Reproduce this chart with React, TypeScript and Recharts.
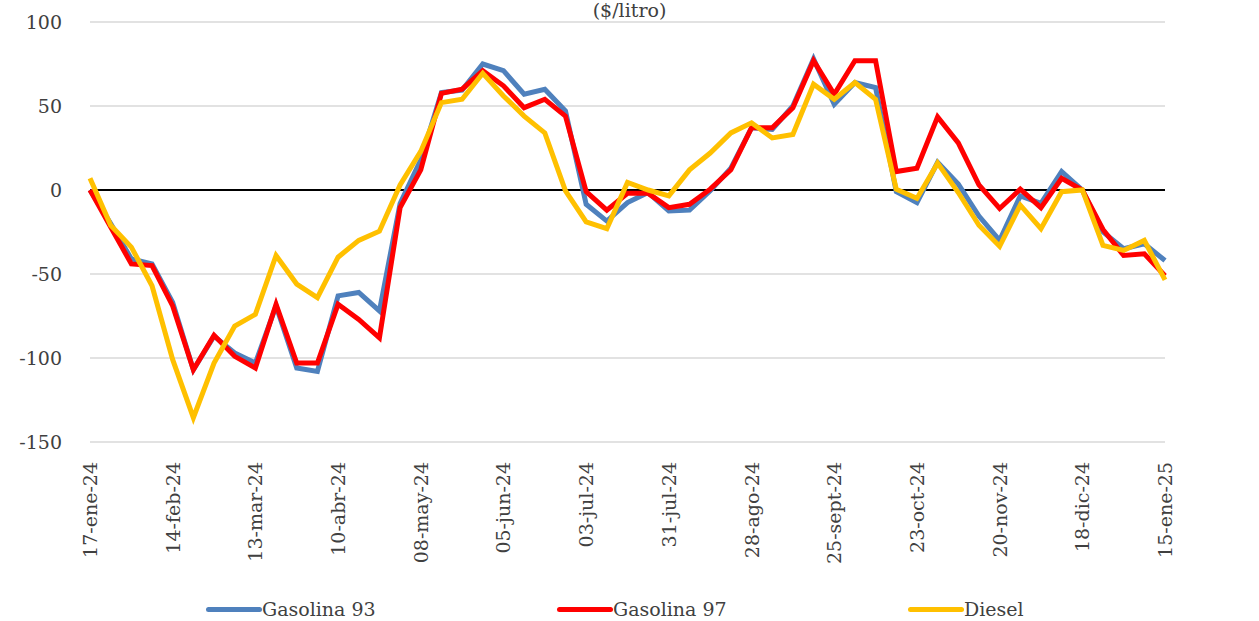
import React from 'react';
import {
  CartesianGrid,
  Legend,
  Line,
  LineChart,
  ReferenceLine,
  XAxis,
  YAxis,
} from 'recharts';

const weeks = [
  '17-ene-24', '24-ene-24', '31-ene-24', '07-feb-24', '14-feb-24', '21-feb-24', '28-feb-24',
  '06-mar-24', '13-mar-24', '20-mar-24', '27-mar-24', '03-abr-24', '10-abr-24', '17-abr-24',
  '24-abr-24', '01-may-24', '08-may-24', '15-may-24', '22-may-24', '29-may-24', '05-jun-24',
  '12-jun-24', '19-jun-24', '26-jun-24', '03-jul-24', '10-jul-24', '17-jul-24', '24-jul-24',
  '31-jul-24', '07-ago-24', '14-ago-24', '21-ago-24', '28-ago-24', '04-sept-24', '11-sept-24',
  '18-sept-24', '25-sept-24', '02-oct-24', '09-oct-24', '16-oct-24', '23-oct-24', '30-oct-24',
  '06-nov-24', '13-nov-24', '20-nov-24', '27-nov-24', '04-dic-24', '11-dic-24', '18-dic-24',
  '25-dic-24', '01-ene-25', '08-ene-25', '15-ene-25',
];

const gasolina93 = [
  0, -20, -41, -44, -67, -107, -87, -97, -103, -69, -106, -108, -63, -61, -72, -8,
  18, 58, 59.5, 75, 71, 57, 60, 47, -8.5, -18.5, -7.5, -1.5, -12.5, -12, -0.5, 13,
  37, 36, 50, 78, 51, 64, 61, -1, -7.5, 16.5, 3.5, -15.5, -30, -3.5, -8, 11, 0,
  -25, -35, -32, -42,
];

const gasolina97 = [
  0, -22, -44, -45, -69, -107, -86.5, -99, -106, -68, -103, -103, -68, -77, -88, -10.5,
  12, 57.5, 60, 71, 62, 49, 54, 44, -1, -12, -2, -2, -10.5, -8.5, 0.5, 12,
  37, 37, 49, 77, 57, 77, 77, 11, 13, 43.5, 28, 3, -11, 0.5, -10.5, 7, 0,
  -23.5, -39, -38, -51,
];

const diesel = [
  7, -21, -34, -57, -101, -135.5, -103, -81, -74, -39, -56, -64, -40, -30, -24.5, 3,
  23, 52, 54, 69.5, 56, 44, 34, -0.5, -19, -23, 4.5, 0, -3.5, 12, 22, 34,
  40, 31, 33, 63, 54, 64, 54, 0.5, -5, 16, -1.5, -21, -33.5, -9, -23, -1, 0,
  -33, -36, -30, -53.5,
];

const seriesNames = ['Gasolina 93', 'Gasolina 97', 'Diesel'];
const yTicks = [-150, -100, -50, 0, 50, 100];

const data = weeks.map((week, i) => ({
  week,
  g93: gasolina93[i],
  g97: gasolina97[i],
  diesel: diesel[i],
}));

const FONT = "'DejaVu Serif', serif";
const TEXT = '#404040';
const FS = 19;

const DateTick = (props: any) => {
  const { x, y, payload } = props;
  return (
    <text
      x={x}
      y={y}
      transform={`rotate(-90, ${x}, ${y})`}
      textAnchor="end"
      dominantBaseline="central"
      fill={TEXT}
      fontSize={FS}
      style={{ fontFamily: FONT }}
    >
      {payload.value}
    </text>
  );
};

const LegendContent = (props: any) => {
  const items = [...(props.payload || [])].sort(
    (a: any, b: any) => seriesNames.indexOf(a.value) - seriesNames.indexOf(b.value)
  );
  return (
    <div style={{ display: 'flex', paddingLeft: 206, height: 24, alignItems: 'center' }}>
      {items.map((item: any) => (
        <div key={item.value} style={{ display: 'flex', alignItems: 'center', width: 364 }}>
          <span
            style={{
              display: 'inline-block',
              width: 56,
              height: 5,
              borderRadius: 3,
              background: item.color,
            }}
          />
          <span style={{ fontFamily: FONT, fontSize: FS, color: TEXT }}>{item.value}</span>
        </div>
      ))}
    </div>
  );
};

export default function App() {
  return (
    <div style={{ position: 'absolute', left: 0, top: 0, width: 1259, height: 621, overflow: 'hidden', background: '#fff' }}>
      <div
        style={{
          position: 'absolute',
          top: 0,
          left: 0,
          width: 1259,
          textAlign: 'center',
          fontFamily: FONT,
          fontSize: FS,
          lineHeight: '20px',
          color: TEXT,
        }}
      >
        ($/litro)
      </div>
      <LineChart
        width={1259}
        height={621}
        data={data}
        margin={{ top: 22, right: 0, bottom: 0, left: 0 }}
      >
        <CartesianGrid vertical={false} stroke="#d9d9d9" strokeWidth={1.5} yAxisId="left" />
        <XAxis
          dataKey="week"
          interval={3}
          tickLine={false}
          axisLine={false}
          height={155}
          tick={<DateTick />}
          tickSize={0}
          tickMargin={20}
        />
        <YAxis
          yAxisId="left"
          domain={[-150, 100]}
          ticks={yTicks}
          width={90}
          axisLine={false}
          tickLine={false}
          tickSize={0}
          tickMargin={28}
          tick={{ fill: TEXT, fontSize: FS, style: { fontFamily: FONT } }}
        />
        <YAxis
          yAxisId="right"
          orientation="right"
          domain={[-150, 100]}
          ticks={yTicks}
          width={94}
          axisLine={false}
          tickLine={false}
          tickSize={0}
          tickMargin={30}
          tick={{ fill: TEXT, fontSize: FS, textAnchor: 'start', style: { fontFamily: FONT } }}
        />
        <ReferenceLine yAxisId="left" y={0} stroke="#000" strokeWidth={2} />
        <Line
          yAxisId="left"
          type="linear"
          dataKey="g93"
          name="Gasolina 93"
          stroke="#4f81bd"
          strokeWidth={5}
          dot={false}
          isAnimationActive={false}
        />
        <Line
          yAxisId="left"
          type="linear"
          dataKey="g97"
          name="Gasolina 97"
          stroke="#ff0000"
          strokeWidth={5}
          dot={false}
          isAnimationActive={false}
        />
        <Line
          yAxisId="left"
          type="linear"
          dataKey="diesel"
          name="Diesel"
          stroke="#ffc000"
          strokeWidth={5}
          dot={false}
          isAnimationActive={false}
        />
        <Legend verticalAlign="bottom" align="left" content={<LegendContent />} wrapperStyle={{ left: 0, width: 1259 }} />
      </LineChart>
    </div>
  );
}
